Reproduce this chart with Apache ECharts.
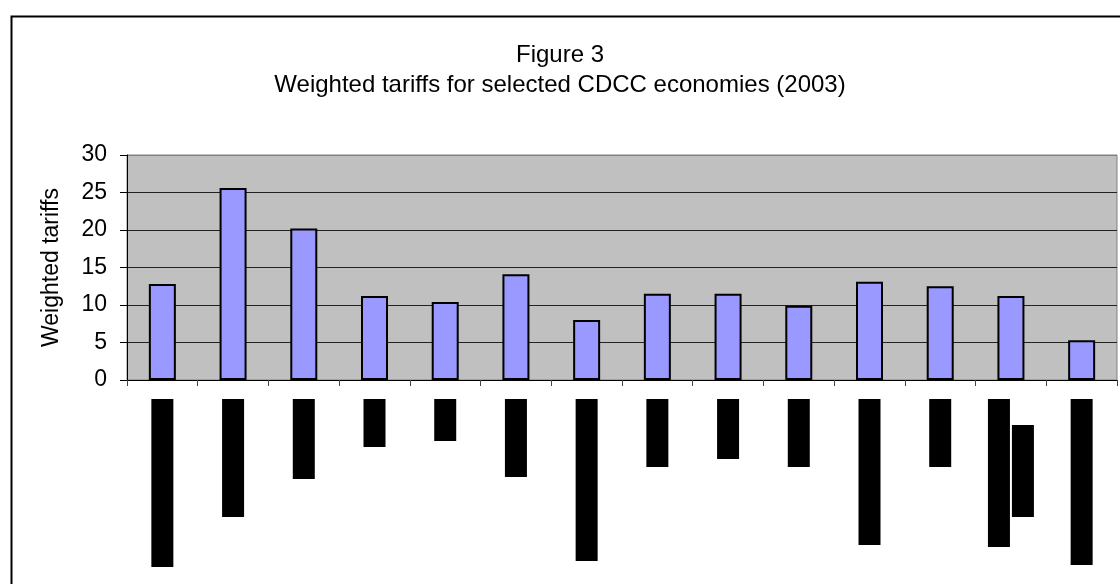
<!DOCTYPE html>
<html>
<head>
<meta charset="utf-8">
<script src="https://cdn.jsdelivr.net/npm/echarts@6/dist/echarts.min.js"></script>
<style>
html,body{margin:0;padding:0;background:#fff;}
#chart{width:1120px;height:584px;}
</style>
</head>
<body>
<div id="chart"></div>
<script>
// Categories (economy labels are redacted in the source picture)
const categories = ['c1','c2','c3','c4','c5','c6','c7','c8','c9','c10','c11','c12','c13','c14'];
// Weighted tariffs (%)
const tariffs = [12.8, 25.6, 20.2, 11.2, 10.4, 14.1, 8.0, 11.5, 11.5, 9.9, 13.1, 12.5, 11.2, 5.3];
// Lengths of the redacted (blacked-out) category labels, first line
const redactedLine1 = [168, 118, 80, 48, 42, 78, 162, 68, 60, 68, 146, 68, null, 166];
// Category 13 has a two-line redacted label
const redactedTwoLineA = [null,null,null,null,null,null,null,null,null,null,null,null,148,null];
const redactedTwoLineBOffset = [null,null,null,null,null,null,null,null,null,null,null,null,26,null];
const redactedTwoLineB = [null,null,null,null,null,null,null,null,null,null,null,null,92,null];
const yTicks = [0, 5, 10, 15, 20, 25, 30];

const FONT = 'Liberation Sans, Arial, sans-serif';
const chart = echarts.init(document.getElementById('chart'), null, {renderer: 'canvas'});

chart.setOption({
  backgroundColor: '#ffffff',
  animation: false,
  title: {
    text: 'Figure 3',
    subtext: 'Weighted tariffs for selected CDCC economies (2003)',
    left: 'center',
    top: 38,
    itemGap: 6,
    textStyle: {fontFamily: FONT, fontSize: 24, fontWeight: 'normal', color: '#000'},
    subtextStyle: {fontFamily: FONT, fontSize: 24, color: '#000'}
  },
  graphic: [{
    type: 'rect',
    left: 9, top: 14,
    shape: {width: 1200, height: 700},
    style: {fill: 'none', stroke: '#000', lineWidth: 2},
    silent: true,
    z: -1
  }],
  grid: [
    {left: 127, right: 3, top: 155, height: 225, show: true, backgroundColor: '#C0C0C0', borderColor: '#808080', borderWidth: 1},
    {left: 127, right: 3, top: 399, height: 180, show: false}
  ],
  xAxis: [
    {type: 'category', gridIndex: 0, data: categories,
     axisLine: {lineStyle: {color: '#000', width: 1}},
     axisTick: {show: true, length: 6, lineStyle: {color: '#444'}},
     axisLabel: {show: false}},
    {type: 'category', gridIndex: 1, data: categories, show: false},
    {type: 'category', gridIndex: 1, data: categories, show: false}
  ],
  yAxis: [
    {type: 'value', gridIndex: 0, min: 0, max: 30, interval: 5,
     name: 'Weighted tariffs', nameLocation: 'middle', nameGap: 64,
     nameTextStyle: {fontFamily: FONT, fontSize: 23, color: '#000'},
     axisLine: {show: true, lineStyle: {color: '#000', width: 1}},
     axisTick: {show: true, length: 7, lineStyle: {color: '#000'}},
     axisLabel: {fontFamily: FONT, fontSize: 23, color: '#000', margin: 20,
                 formatter: v => yTicks.indexOf(v) >= 0 ? String(v) : ''},
     splitLine: {show: true, lineStyle: {color: ['#222','#222','#222','#222','#222','#222','#808080'], width: 1}}},
    {type: 'value', gridIndex: 1, min: 0, max: 180, inverse: true, show: false}
  ],
  series: [
    {type: 'bar', xAxisIndex: 0, yAxisIndex: 0, data: tariffs, barWidth: 27,
     itemStyle: {color: '#9999FF', borderColor: '#000', borderWidth: 2}},
    {type: 'bar', xAxisIndex: 1, yAxisIndex: 1, data: redactedLine1, barWidth: 22,
     itemStyle: {color: '#000'}, silent: true},
    {type: 'bar', xAxisIndex: 2, yAxisIndex: 1, data: redactedTwoLineA, barWidth: 22, barGap: '9%',
     itemStyle: {color: '#000'}, silent: true},
    {type: 'bar', xAxisIndex: 2, yAxisIndex: 1, data: redactedTwoLineBOffset, barWidth: 22, stack: 'b',
     itemStyle: {color: 'rgba(0,0,0,0)'}, silent: true},
    {type: 'bar', xAxisIndex: 2, yAxisIndex: 1, data: redactedTwoLineB, barWidth: 22, stack: 'b',
     itemStyle: {color: '#000'}, silent: true}
  ]
});
</script>
</body>
</html>
